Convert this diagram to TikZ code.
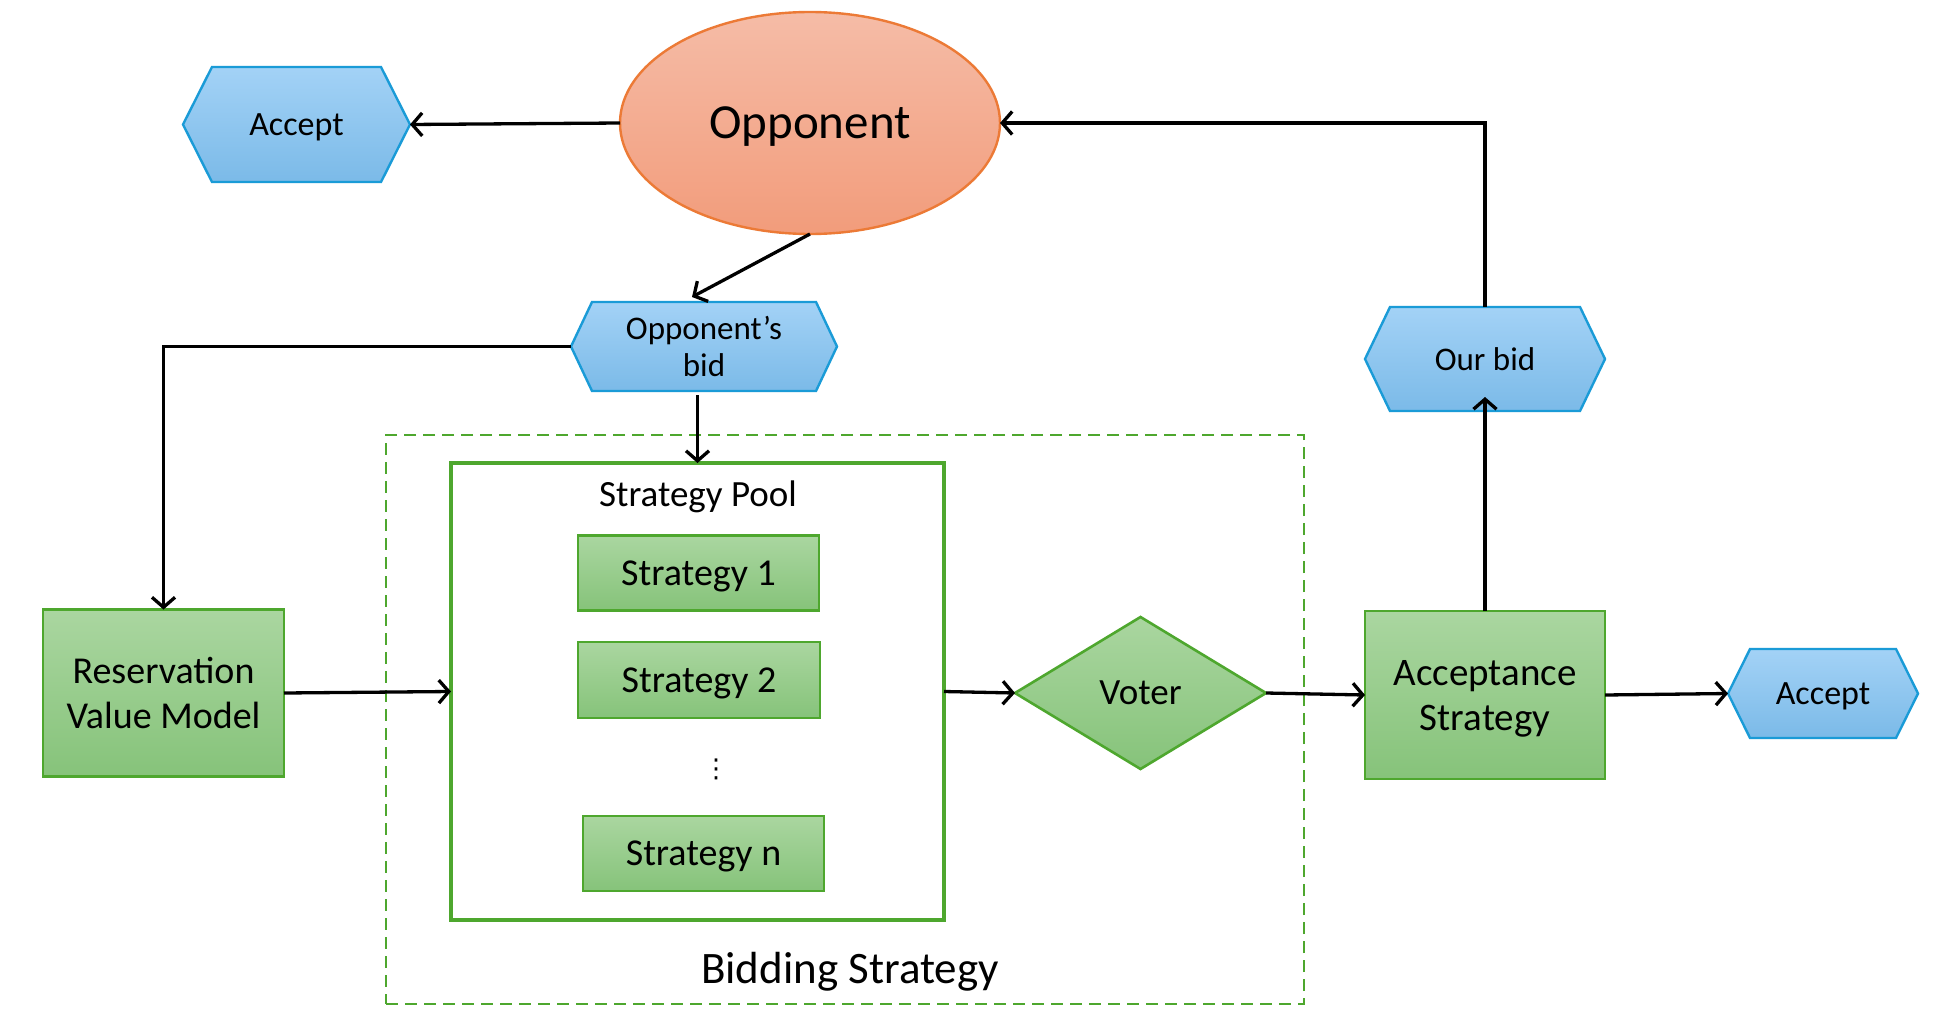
\documentclass[tikz,border=0pt]{standalone}
\usepackage{fontspec}
\setmainfont{Carlito}
\newfontfamily\dejavu{DejaVu Sans}
\usetikzlibrary{shapes.geometric,arrows.meta}
\definecolor{bluetop}{HTML}{A3D2F6}
\definecolor{bluebot}{HTML}{7BBAE8}
\definecolor{blueline}{HTML}{1A9BD7}
\definecolor{greentop}{HTML}{AAD6A0}
\definecolor{greenbot}{HTML}{86C37A}
\definecolor{greenline}{HTML}{4EA72E}
\definecolor{orangetop}{HTML}{F5BCA7}
\definecolor{orangebot}{HTML}{F29C7B}
\definecolor{orangeline}{HTML}{EC7A36}
\newcommand\hexdraw[2]{\path[hexline] ([xshift=#2]#1.north west) -- ([xshift=-#2]#1.north east) -- (#1.east) -- ([xshift=-#2]#1.south east) -- ([xshift=#2]#1.south west) -- (#1.west) -- cycle;}
\tikzset{
  every node/.style={inner sep=0pt, outer sep=0pt},
  hexline/.style={draw=blueline, line width=2.4pt, top color=bluetop, bottom color=bluebot},
  greenbox/.style={draw=greenline, line width=2.6pt, top color=greentop, bottom color=greenbot, align=center, text depth=0pt},
  arr/.style={line width=3.3pt, -{Straight Barb[length=10pt,width=23pt]}},
}
\begin{document}
\begin{tikzpicture}[x=1pt,y=-1pt]
\fill[white] (0,0) rectangle (1942,1030);
% dashed bidding strategy box
\node[draw=greenline, line width=2pt, dash pattern=on 12pt off 7pt, minimum width=918pt, minimum height=569pt] (bid) at (845,719.5) {};
\node[font=\fontsize{45}{54}\selectfont] (bidt) at (850,972) {Bidding Strategy};
% opponent
\node[ellipse, draw=orangeline, line width=2.4pt, top color=orangetop, bottom color=orangebot, minimum width=380pt, minimum height=222pt, text depth=0pt, font=\fontsize{49}{59}\selectfont] (opp) at (810,123) {Opponent};
% hexagons
\node[minimum width=227pt, minimum height=115pt] (acc1) at (296.5,124.5) {};
\hexdraw{acc1}{29pt}
\node[font=\fontsize{34}{40}\selectfont, text depth=0pt] (acc1t) at (acc1) {Accept};
\node[minimum width=266pt, minimum height=89pt] (ob) at (704,346.5) {};
\hexdraw{ob}{21pt}
\node[font=\fontsize{33}{37}\selectfont, align=center] (obt) at (ob) {Opponent’s\\bid};
\node[minimum width=240pt, minimum height=104pt] (our) at (1485,359) {};
\hexdraw{our}{25pt}
\node[font=\fontsize{33}{40}\selectfont] (ourt) at (our) {Our bid};
\node[minimum width=190pt, minimum height=89pt] (acc2) at (1823,693.5) {};
\hexdraw{acc2}{22pt}
\node[font=\fontsize{34}{40}\selectfont, text depth=0pt] (acc2t) at (acc2) {Accept};
% green boxes
\node[greenbox, minimum width=241pt, minimum height=167pt, font=\fontsize{38}{45}\selectfont] (rvm) at (163.5,693) {Reservation\\Value Model};
\node[draw=greenline, line width=3.2pt, fill=white, minimum width=493pt, minimum height=457pt] (pool) at (697.5,691.5) {};
\node[font=\fontsize{37}{44}\selectfont] (poolt) at (698,497) {Strategy Pool};
\node[greenbox, minimum width=241pt, minimum height=75pt, font=\fontsize{38}{45}\selectfont] (s1) at (698.5,573) {Strategy 1};
\node[greenbox, minimum width=242pt, minimum height=76pt, font=\fontsize{38}{45}\selectfont] (s2) at (699,680) {Strategy 2};
\node[font=\dejavu\fontsize{26}{30}\selectfont] (dots) at (716,769) {⋮};
\node[greenbox, minimum width=241pt, minimum height=75pt, font=\fontsize{38}{45}\selectfont] (sn) at (703.5,853.5) {Strategy n};
\node[diamond, aspect=1.65, draw=greenline, line width=2.6pt, top color=greentop, bottom color=greenbot, minimum width=251pt, minimum height=152pt, font=\fontsize{37}{44}\selectfont] (voter) at (1140.5,693) {Voter};
\node[greenbox, minimum width=240pt, minimum height=168pt, font=\fontsize{39}{45}\selectfont] (as) at (1485,695) {Acceptance\\Strategy};
% connectors
\draw[arr] (opp.west) -- (acc1.east);
\draw[arr] (opp.south) -- ([xshift=-12pt,yshift=5pt]ob.north);
\draw[arr] (ob.west) -| (rvm.north);
\draw[arr] ([yshift=-4pt]pool.north |- ob.south) -- (pool.north);
\draw[arr] (rvm.east) -- (pool.west);
\draw[arr] (pool.east) -- (voter.west);
\draw[arr] (voter.east) -- (as.west);
\draw[arr] (as.east) -- (acc2.west);
\draw[arr, shorten >=-14pt] (as.north) -- (our.south);
\draw[arr] (our.north) |- (opp.east);
\end{tikzpicture}
\end{document}
